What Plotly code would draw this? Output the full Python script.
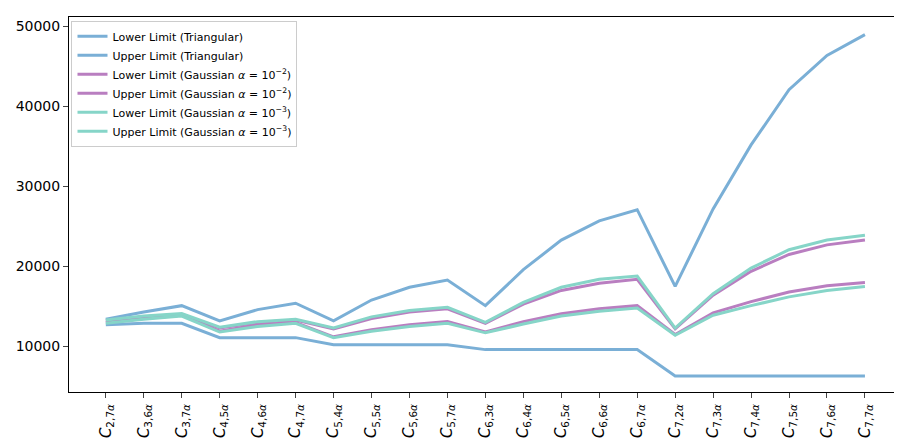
import plotly.graph_objects as go

# category labels (C_{n, k alpha})
pairs = [(2, 7), (3, 6), (3, 7), (4, 5), (4, 6), (4, 7), (5, 4), (5, 5), (5, 6), (5, 7),
         (6, 3), (6, 4), (6, 5), (6, 6), (6, 7), (7, 2), (7, 3), (7, 4), (7, 5), (7, 6), (7, 7)]
categories = ["<i>C</i><sub>%d,%d<i>α</i></sub>" % p for p in pairs]

tri_lower = [12700, 12900, 12900, 11100, 11100, 11100, 10200, 10200, 10200, 10200,
             9600, 9600, 9600, 9600, 9600, 6300, 6300, 6300, 6300, 6300, 6300]
tri_upper = [13400, 14300, 15100, 13200, 14600, 15400, 13200, 15800, 17400, 18300,
             15100, 19600, 23300, 25700, 27100, 17500, 27200, 35200, 42100, 46400, 49000]
g2_lower = [13000, 13500, 13900, 11900, 12700, 13000, 11200, 12100, 12700, 13100,
            11800, 13100, 14100, 14700, 15100, 11500, 14200, 15600, 16800, 17600, 18000]
g2_upper = [13200, 13700, 14000, 12300, 13000, 13300, 12200, 13500, 14300, 14700,
            12900, 15300, 17000, 17900, 18400, 12200, 16400, 19400, 21500, 22700, 23300]
g3_lower = [12900, 13400, 13800, 11800, 12500, 12900, 11100, 11900, 12500, 12900,
            11700, 12800, 13800, 14400, 14800, 11400, 13900, 15100, 16200, 17000, 17500]
g3_upper = [13300, 13800, 14100, 12400, 13100, 13400, 12300, 13700, 14500, 14900,
            13000, 15500, 17400, 18400, 18800, 12300, 16600, 19800, 22100, 23300, 23900]

BLUE = "#7aafd6"
PURPLE = "#b97ec0"
TEAL = "#86d5c8"

series = [
    ("Lower Limit (Triangular)", tri_lower, BLUE),
    ("Upper Limit (Triangular)", tri_upper, BLUE),
    ("Lower Limit (Gaussian <i>α</i> = 10<sup>−2</sup>)", g2_lower, PURPLE),
    ("Upper Limit (Gaussian <i>α</i> = 10<sup>−2</sup>)", g2_upper, PURPLE),
    ("Lower Limit (Gaussian <i>α</i> = 10<sup>−3</sup>)", g3_lower, TEAL),
    ("Upper Limit (Gaussian <i>α</i> = 10<sup>−3</sup>)", g3_upper, TEAL),
]

fig = go.Figure()
for name, vals, col in series:
    fig.add_trace(go.Scatter(x=categories, y=vals, mode="lines", name=name,
                             line=dict(color=col, width=3)))

fig.update_layout(
    width=902, height=438,
    margin=dict(l=60, r=9, t=8, b=50),
    plot_bgcolor="white", paper_bgcolor="white",
    font=dict(family="DejaVu Sans", color="black"),
    showlegend=True,
    legend=dict(x=0.003, y=0.99, xanchor="left", yanchor="top",
                bgcolor="rgba(255,255,255,0.8)", bordercolor="#cccccc", borderwidth=1,
                font=dict(size=11), tracegroupgap=0, itemwidth=30),
)
fig.update_xaxes(showline=True, linecolor="black", mirror=True, showgrid=False,
                 ticks="outside", tickangle=-90, tickfont=dict(size=15),
                 range=[-0.97, 20.95])
fig.update_yaxes(showline=True, linecolor="black", mirror=True, showgrid=False,
                 ticks="outside", tickfont=dict(size=14), tickformat="d",
                 tickvals=[10000, 20000, 30000, 40000, 50000],
                 range=[4300, 51200])

fig.write_html("out.html")
